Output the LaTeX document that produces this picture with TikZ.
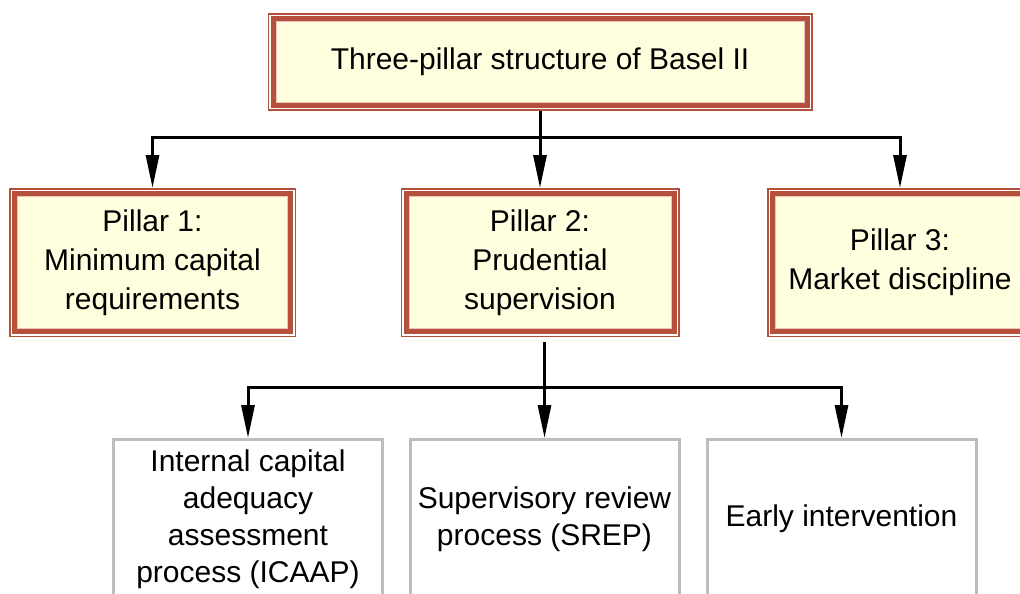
\documentclass[tikz,border=0pt]{standalone}
\usepackage{fontspec}
\setmainfont{Liberation Sans}
\usetikzlibrary{arrows.meta}
\definecolor{brick}{HTML}{B5503C}
\definecolor{rim}{HTML}{EBC3B6}
\definecolor{pale}{HTML}{FFFFDF}
\definecolor{leafline}{HTML}{BDBDBD}

\begin{document}
\begin{tikzpicture}[x=1pt,y=-1pt,
  pillar/.style={draw=brick, fill=pale, line width=5pt, outer sep=5.5pt,
    inner sep=0pt, align=center, font=\fontsize{30}{39}\selectfont},
  leaf/.style={draw=leafline, fill=white, line width=3pt, outer sep=1.5pt,
    inner sep=0pt, align=center, minimum width=269pt, minimum height=159pt,
    font=\fontsize{30}{37}\selectfont},
  conn/.style={line width=3pt, black},
  arrowto/.style={-{Triangle[width=13pt,length=33pt]}}
]
\useasboundingbox (0,0) rectangle (1020,594);
\clip (0,0) rectangle (1020,594);

% headline box and the three pillars
\node[pillar, minimum width=534pt, minimum height=86pt] (top) at (540,62)
  {Three-pillar structure of Basel II};
\node[pillar, minimum width=276pt, minimum height=138pt] (p1) at (152.5,262.5)
  {Pillar 1:\\Minimum capital\\requirements};
\node[pillar, minimum width=268pt, minimum height=138pt] (p2) at (540,262.5)
  {Pillar 2:\\Prudential\\supervision};
\node[pillar, minimum width=255pt, minimum height=138pt] (p3) at (900,262.5)
  {Pillar 3:\\Market discipline};

% thin outer frame and pale inner rim of the framed boxes
\foreach \n in {top,p1,p2,p3} {
  \draw[brick, line width=1.5pt]
    ([shift={(0.75,0.75)}]\n.north west) rectangle ([shift={(-0.75,-0.75)}]\n.south east);
  \draw[rim, line width=1pt]
    ([shift={(8.5,8.5)}]\n.north west) rectangle ([shift={(-8.5,-8.5)}]\n.south east);
}

% the parts of pillar 2
\node[leaf] (b1) at (248,519)
  {Internal capital\\adequacy\\assessment\\process (ICAAP)};
\node[leaf] (b2) at (544.5,519) {Supervisory review\\process (SREP)};
\node[leaf] (b3) at (841.5,519) {Early intervention};

% connectors
\coordinate (j1) at (540,137);
\draw[conn] (top.south) -- (j1);
\draw[conn, arrowto] (j1) -| (p1.north);
\draw[conn, arrowto] (j1) -- (p2.north);
\draw[conn, arrowto] (j1) -| (p3.north);

\coordinate (j2) at (544.5,387);
\draw[conn, shorten <=5pt] (p2.south -| j2) -- (j2);
\draw[conn, arrowto] (j2) -| (b1.north);
\draw[conn, arrowto] (j2) -- (b2.north);
\draw[conn, arrowto] (j2) -| (b3.north);
\end{tikzpicture}
\end{document}
